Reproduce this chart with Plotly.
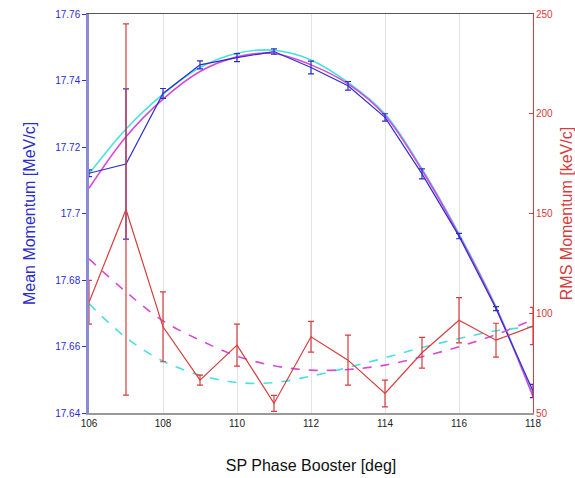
import plotly.graph_objects as go

phase = [106, 107, 108, 109, 110, 111, 112, 113, 114, 115, 116, 117, 118]

mean_mom = [17.7121, 17.7149, 17.7361, 17.7447, 17.7469, 17.7487, 17.7439, 17.7384, 17.7289, 17.7119, 17.6932, 17.6714, 17.6466]
mean_err = [0.0010, 0.0226, 0.0015, 0.0012, 0.0012, 0.0008, 0.0019, 0.0013, 0.0011, 0.0015, 0.0008, 0.0006, 0.0020]

rms_mom = [105.5, 152.0, 93.2, 66.5, 84.0, 54.8, 88.2, 76.5, 59.8, 80.2, 96.5, 86.5, 93.6]
rms_err = [11.0, 93.0, 17.5, 2.5, 10.5, 4.0, 7.7, 12.5, 6.7, 7.7, 11.3, 8.5, 9.3]

fit_mean_a = [17.7119, 17.7254, 17.7359, 17.7439, 17.7482, 17.7491, 17.7462, 17.7394, 17.7299, 17.7134, 17.6939, 17.6719, 17.6454]
fit_mean_b = [17.7076, 17.7231, 17.7344, 17.7427, 17.7471, 17.7481, 17.7447, 17.7390, 17.7295, 17.7130, 17.6935, 17.6716, 17.6450]
fit_rms_a = [104.8, 87.8, 76.0, 69.0, 65.3, 65.2, 68.5, 72.8, 77.7, 82.8, 87.3, 91.2, 93.2]
fit_rms_b = [127.3, 110.7, 96.2, 86.5, 78.5, 73.7, 71.5, 71.8, 74.0, 78.2, 83.2, 89.3, 96.8]

x_ticks = [106, 108, 110, 112, 114, 116, 118]
y_ticks = [17.64, 17.66, 17.68, 17.70, 17.72, 17.74, 17.76]
y_tick_text = ["17.64", "17.66", "17.68", "17.7", "17.72", "17.74", "17.76"]
y2_ticks = [50, 100, 150, 200, 250]

BLUE = "#2d2dcc"
RED = "#d83c3c"
CYAN = "#48e0e0"
MAGENTA = "#d84ad8"
FONT = "Liberation Sans"

fig = go.Figure()

fig.add_trace(go.Scatter(x=phase, y=fit_mean_a, mode="lines", line=dict(color=CYAN, width=1.6, shape="spline"), yaxis="y"))
fig.add_trace(go.Scatter(x=phase, y=fit_mean_b, mode="lines", line=dict(color=MAGENTA, width=1.6, shape="spline"), yaxis="y"))
fig.add_trace(go.Scatter(x=phase, y=mean_mom, mode="lines", line=dict(color=BLUE, width=1.2),
                         error_y=dict(type="data", array=mean_err, color=BLUE, thickness=1.2, width=3), yaxis="y"))

fig.add_trace(go.Scatter(x=phase, y=fit_rms_a, mode="lines", line=dict(color=CYAN, width=1.6, dash="dash", shape="spline"), yaxis="y2"))
fig.add_trace(go.Scatter(x=phase, y=fit_rms_b, mode="lines", line=dict(color=MAGENTA, width=1.6, dash="dash", shape="spline"), yaxis="y2"))
fig.add_trace(go.Scatter(x=phase, y=rms_mom, mode="lines", line=dict(color=RED, width=1.2),
                         error_y=dict(type="data", array=rms_err, color=RED, thickness=1.2, width=3), yaxis="y2"))

fig.update_layout(
    width=575, height=478,
    margin=dict(l=89, r=42, t=14, b=65),
    paper_bgcolor="white", plot_bgcolor="white",
    showlegend=False,
    font=dict(family=FONT, size=10, color="#222"),
    xaxis=dict(
        range=[106, 118], tickvals=x_ticks, ticks="", showgrid=True, gridcolor="#e4e4e4", gridwidth=1.2,
        showline=True, linecolor="#999", linewidth=2, mirror=False, zeroline=False, automargin=False,
        tickfont=dict(family=FONT, size=10, color="#222"),
        title=dict(text="SP Phase Booster [deg]", font=dict(family=FONT, size=16, color="#111"), standoff=32),
    ),
    xaxis2=dict(overlaying="x", side="top", range=[106, 118], showline=True, linecolor="#555", linewidth=1,
                showticklabels=False, ticks="", showgrid=False, zeroline=False, automargin=False),
    yaxis=dict(
        range=[17.64, 17.76], tickvals=y_ticks, ticktext=y_tick_text, ticks="outside", ticklen=4, tickcolor=BLUE,
        showgrid=False, zeroline=False, showline=True, linecolor="rgba(110,110,200,0.8)", linewidth=2.5,
        automargin=False,
        tickfont=dict(family=FONT, size=10, color=BLUE),
        title=dict(text="Mean Momentum [MeV/c]", font=dict(family=FONT, size=16, color=BLUE), standoff=16),
    ),
    yaxis2=dict(
        range=[50, 250], tickvals=y2_ticks, overlaying="y", side="right", ticks="inside", ticklen=4, tickcolor=RED,
        showgrid=False, zeroline=False, showline=True, linecolor=RED, linewidth=1, automargin=False,
        tickfont=dict(family=FONT, size=10, color=RED),
        title=dict(text="RMS Momentum [keV/c]", font=dict(family=FONT, size=16, color=RED), standoff=8),
    ),
)
fig.add_trace(go.Scatter(x=[106, 118], y=[None, None], xaxis="x2", yaxis="y", showlegend=False, hoverinfo="skip"))

fig.write_html("out.html")
